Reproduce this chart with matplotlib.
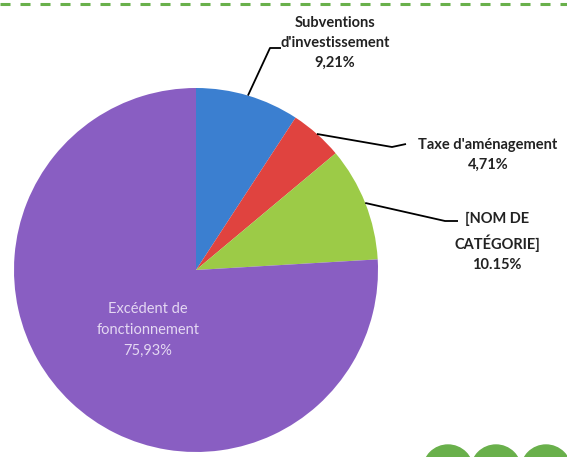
import numpy as np
import matplotlib
matplotlib.use("Agg")
import matplotlib.pyplot as plt
from matplotlib.patches import Circle

# Data
labels = ["Subventions\nd'investissement", "Taxe d'aménagement", "[NOM DE\nCATÉGORIE]", "Excédent de\nfonctionnement"]
values = [9.21, 4.71, 10.15, 75.93]
pct_text = ["9,21%", "4,71%", "10.15%", "75,93%"]
colors = ["#3b7fd0", "#e0433f", "#9ccb47", "#895ec2"]

W, H = 567, 457
plt.rcParams["font.family"] = ["Lato", "DejaVu Sans"]
plt.rcParams["lines.scale_dashes"] = False

fig = plt.figure(figsize=(W / 100, H / 100), dpi=100)
ax = fig.add_axes([0, 0, 1, 1])

cx, cy, r = 196, H - 270, 182
wedges, _ = ax.pie(values, colors=colors, startangle=90, counterclock=False,
                   center=(cx, cy), radius=r, frame=True,
                   wedgeprops=dict(linewidth=0))
ax.set_xlim(0, W)
ax.set_ylim(0, H)
ax.set_aspect("equal")
ax.axis("off")

# leader lines from the middle of each small slice
def anchor(w):
    a = np.deg2rad((w.theta1 + w.theta2) / 2)
    return cx + r * np.cos(a), cy + r * np.sin(a)

lk = dict(color="black", lw=1.3, solid_capstyle="butt")
x0, y0 = anchor(wedges[0])
ax.plot([x0, 270, 281], [y0, H - 48, H - 48], **lk)
x1, y1 = anchor(wedges[1])
ax.plot([x1, 392, 406], [y1, H - 147, H - 144], **lk)
x2, y2 = anchor(wedges[2])
ax.plot([x2, 445, 458], [y2, H - 221, H - 221], **lk)

tk = dict(fontsize=10.5, fontweight="bold", ha="center", va="center",
          linespacing=1.55, color="#222222")
ax.text(335, H - 43, labels[0] + "\n" + pct_text[0], **tk)
ax.text(488, H - 155, labels[1] + "\n" + pct_text[1], **tk)
ax.text(497, H - 242, labels[2] + "\n" + pct_text[2], **tk)
ax.text(148, H - 330, labels[3] + "\n" + pct_text[3], fontsize=10.5,
        ha="center", va="center", linespacing=1.6, color="#e4d8f2")

# decoration: dashed top rule and green dots at bottom right
ax.plot([0, W], [H - 4, H - 4], color="#69b04b", lw=2.2, dashes=(7.2, 7.2))
for x in [448, 496, 546]:
    ax.add_patch(Circle((x, H - 470), 25, color="#69b04b", clip_on=False))

fig.savefig("out.png", dpi=100)
